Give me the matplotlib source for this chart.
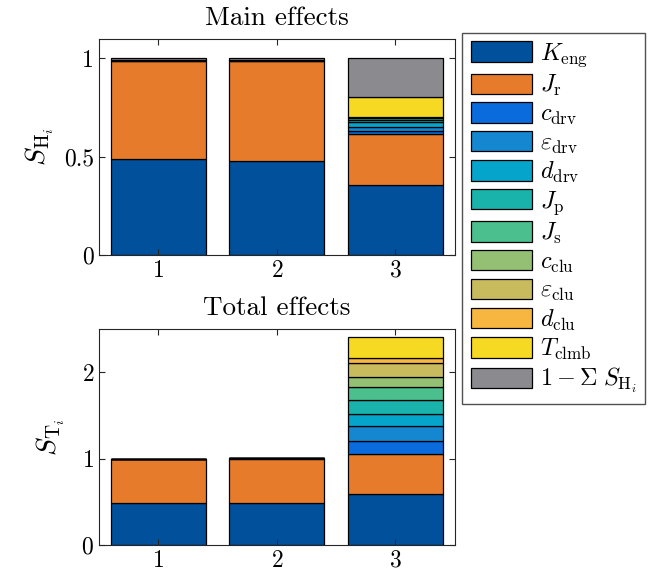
import numpy as np
import matplotlib
matplotlib.use("Agg")
import matplotlib.pyplot as plt

plt.rcParams['font.family'] = 'cmr10'
plt.rcParams['mathtext.fontset'] = 'cm'
plt.rcParams['axes.formatter.use_mathtext'] = True

# data
cases = [1, 2, 3]
labels = [r'$K_{\mathrm{eng}}$', r'$J_{\mathrm{r}}$', r'$c_{\mathrm{drv}}$', r'$\varepsilon_{\mathrm{drv}}$',
          r'$d_{\mathrm{drv}}$', r'$J_{\mathrm{p}}$', r'$J_{\mathrm{s}}$', r'$c_{\mathrm{clu}}$',
          r'$\varepsilon_{\mathrm{clu}}$', r'$d_{\mathrm{clu}}$', r'$T_{\mathrm{clmb}}$',
          r'$1-\Sigma\;S_{\mathrm{H}_i}$']
colors = ['#00509b', '#e77b2c', '#0a6bdd', '#1487d0', '#05a4ca', '#1ab3ac', '#4cbf8e',
          '#93c073', '#c7bb5e', '#f7b640', '#f6d923', '#8a8a8f']

# main effects per parameter, rows = cases
main_eff = np.array([
    [0.490, 0.498, 0.0005, 0.0005, 0.0005, 0.0005, 0.0005, 0.0005, 0.0005, 0.0005, 0.0005],
    [0.480, 0.508, 0.0005, 0.0005, 0.0005, 0.0005, 0.0005, 0.0005, 0.0005, 0.0005, 0.0005],
    [0.356, 0.258, 0.017, 0.020, 0.027, 0.008, 0.008, 0.005, 0.003, 0.002, 0.097],
])
rest = 1 - main_eff.sum(axis=1)
main_all = np.column_stack([main_eff, rest])

total_eff = np.array([
    [0.485, 0.507, 0.001, 0.001, 0.001, 0.001, 0.001, 0.001, 0.001, 0.001, 0.002],
    [0.485, 0.517, 0.001, 0.001, 0.001, 0.001, 0.001, 0.001, 0.001, 0.001, 0.003],
    [0.590, 0.460, 0.160, 0.165, 0.142, 0.167, 0.150, 0.110, 0.162, 0.058, 0.242],
])

fig = plt.figure(figsize=(6.6, 5.86), dpi=100)
ax1 = fig.add_axes([0.150, 0.565, 0.539, 0.369])
ax2 = fig.add_axes([0.150, 0.070, 0.539, 0.368])

def stack(ax, vals):
    bottom = np.zeros(len(cases))
    handles = []
    for j in range(vals.shape[1]):
        h = ax.bar(cases, vals[:, j], 0.8, bottom=bottom, color=colors[j],
                   edgecolor='black', linewidth=0.9, label=labels[j])
        handles.append(h)
        bottom += vals[:, j]
    return handles

handles = stack(ax1, main_all)
stack(ax2, total_eff)

for ax in (ax1, ax2):
    ax.set_xlim(0.5, 3.5)
    ax.set_xticks(cases)
    ax.tick_params(direction='in', top=True, right=True, labelsize=17, length=4,
                   color='#262626')
    for s in ax.spines.values():
        s.set_color('#262626')
        s.set_linewidth(0.8)

ax1.set_ylim(0, 1.1)
ax1.set_yticks([0, 0.5, 1])
ax1.set_yticklabels(['0', '0.5', '1'])
ax1.set_title('Main effects', fontsize=19.5, pad=10)
ax1.set_ylabel(r'$S_{\mathrm{H}_i}$', fontsize=20, labelpad=6)

ax2.set_ylim(0, 2.5)
ax2.set_yticks([0, 1, 2])
ax2.set_title('Total effects', fontsize=19.5, pad=10)
ax2.set_ylabel(r'$S_{\mathrm{T}_i}$', fontsize=20, labelpad=10)

fig.legend(handles=handles, loc='upper left', bbox_to_anchor=(0.700, 0.944),
           borderaxespad=0, fontsize=17.5, frameon=True, fancybox=False,
           edgecolor='#262626', handlelength=2.55, handleheight=0.9,
           labelspacing=0.17, borderpad=0.35, handletextpad=0.3)

fig.savefig('out.png', dpi=100)
